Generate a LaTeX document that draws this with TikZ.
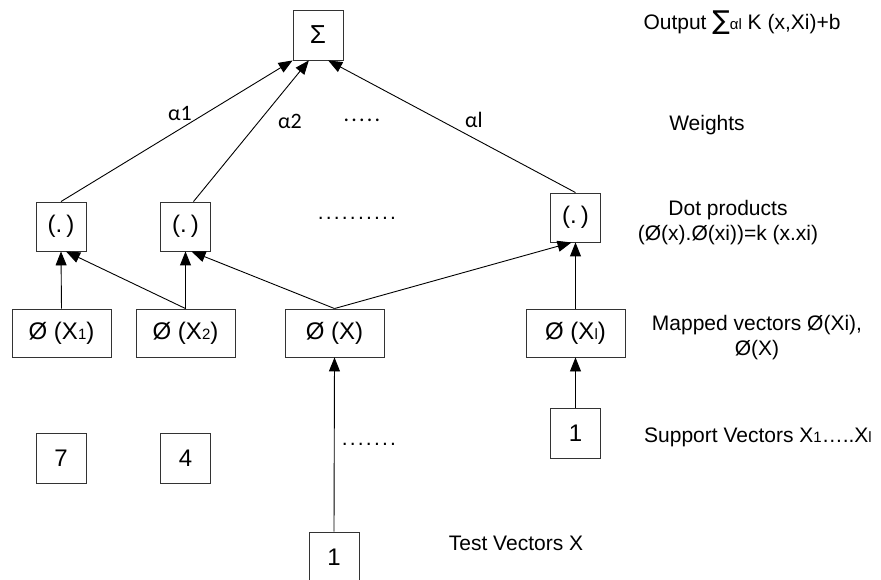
\documentclass[tikz,border=0pt]{standalone}
\usepackage{fontspec}
\setmainfont{Liberation Sans}
\newfontfamily\calfont{Carlito}
\newfontfamily\djv{DejaVu Sans}
\usetikzlibrary{arrows.meta,calc}
\newcommand{\lbl}{\fontsize{21}{25}\selectfont}
\newcommand{\bxf}{\fontsize{24}{28}\selectfont}
\newcommand{\sbs}[1]{{\fontsize{15}{15}\selectfont #1}}
\newcommand{\dotrow}[1]{\foreach \i in {1,...,#1}{.\hspace{2.2pt}}}
\begin{document}
\begin{tikzpicture}[x=1pt,y=-1pt,
  box/.style={draw=black!80,line width=0.9pt,inner sep=0pt,font=\bxf},
  sq/.style={box,minimum width=50pt,minimum height=50pt},
  wide/.style={box,minimum width=99pt,minimum height=48pt},
  lab/.style={font=\lbl,inner sep=0pt,align=center},
  wlab/.style={font=\calfont\fontsize{22}{26}\selectfont,inner sep=0pt},
  conn/.style={line width=0.9pt,-{Triangle[length=14pt,width=11pt]}},
  line/.style={line width=0.9pt}]
\clip (0,0) rectangle (881,580);
\fill[white] (0,0) rectangle (881,580);
% nodes
\node[sq] (sigma) at (318,35) {\fontsize{26}{28}\selectfont Σ};
\node[sq,minimum height=49pt] (d1) at (61,226.5) {(.\,)};
\node[sq,minimum height=49pt] (d2) at (185.5,226.5) {(.\,)};
\node[sq,minimum height=49pt] (d3) at (575.5,217.5) {(.\,)};
\node[wide] (m1) at (61.5,333) {Ø (X\sbs{1})};
\node[wide] (m2) at (185.5,333) {Ø (X\sbs{2})};
\node[wide] (mx) at (334.5,333) {Ø (X)};
\node[wide] (ml) at (575.5,333) {Ø (X\sbs{l})};
\node[sq] (s1) at (575.5,433) {1};
\node[sq] (n7) at (61,458) {7};
\node[sq] (n4) at (185.5,458) {4};
\node[sq] (t1) at (334,557) {1};
% connectors
\draw[conn] (d1.north) -- (sigma.south west);
\draw[conn] ($(d2.north)+(8,0)$) -- ($(sigma.south west)!0.32!(sigma.south east)$);
\draw[conn] (d3.north) -- ($(sigma.south west)!0.7!(sigma.south east)$);
\draw[conn] (m1.north) -- (d1.south);
\draw[conn] (m2.north) -- ($(d1.south)+(5,0)$);
\draw[conn] (m2.north) -- (d2.south);
\draw[conn] (mx.north) -- ($(d2.south)+(6,0)$);
\draw[conn] (mx.north) -- ($(d3.south)+(-4,0)$);
\draw[conn] (ml.north) -- (d3.south);
\draw[conn] (s1.north) -- (ml.south);
\draw[conn] (t1.north) -- (mx.south);
% weight labels
\node[wlab] (a1) at (180,113) {α1};
\node[wlab] (a2) at (290,121) {α2};
\node[wlab] (al) at (474,120) {αl};
\node[wlab] (dw) at (362,120) {\dotrow{5}};
\node[lab] (dd) at (358,218) {\dotrow{10}};
\node[lab] (db) at (370,444) {\dotrow{7}};
% right labels
\node[lab] (lo) at (742,23) {Output {\djv\fontsize{26}{26}\selectfont ∑}{\fontsize{15}{15}\selectfont αl} K (x,Xi)+b};
\node[lab] (lw) at (707,125) {Weights};
\node[lab] (ld) at (728,223) {Dot products\\(Ø(x).Ø(xi))=k (x.xi)};
\node[lab] (lm) at (757,338) {Mapped vectors Ø(Xi),\\Ø(X)};
\node[lab] (ls) at (758,437) {Support Vectors X\sbs{1}…..X\sbs{l}};
\node[lab] (lt) at (516,543) {Test Vectors X};
\end{tikzpicture}
\end{document}
